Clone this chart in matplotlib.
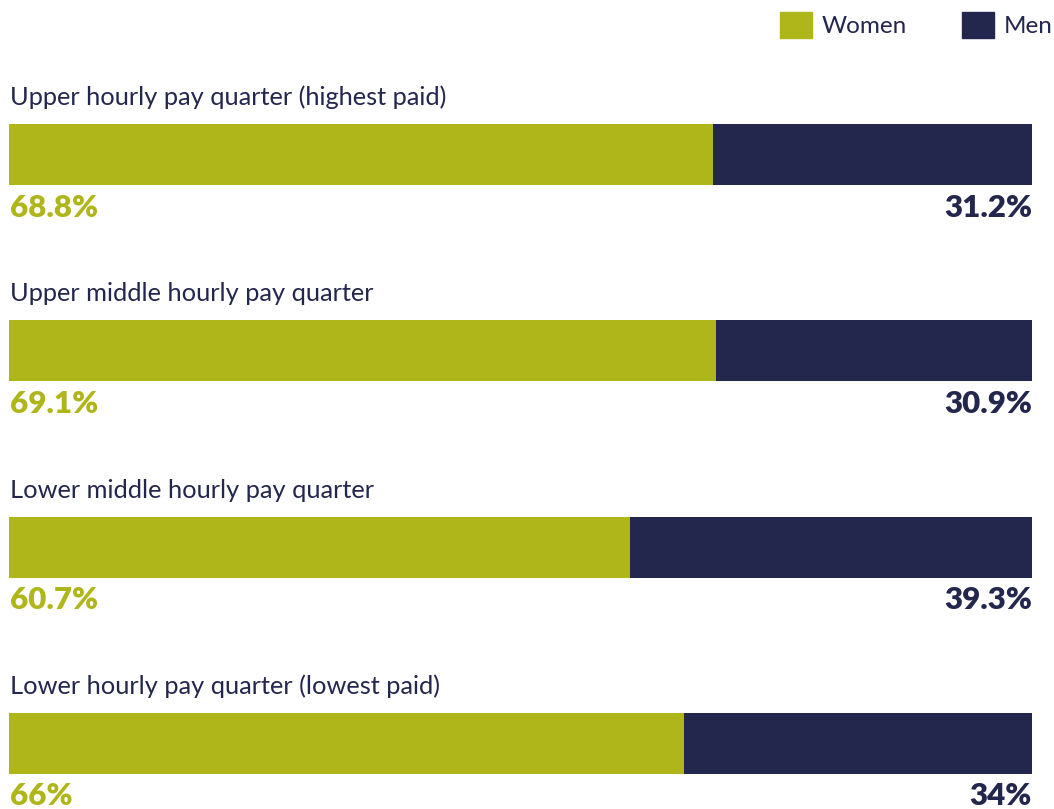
import matplotlib.pyplot as plt
from matplotlib.patches import Patch

quarters = ["Upper hourly pay quarter (highest paid)",
            "Upper middle hourly pay quarter",
            "Lower middle hourly pay quarter",
            "Lower hourly pay quarter (lowest paid)"]
women = [68.8, 69.1, 60.7, 66]
men = [31.2, 30.9, 39.3, 34]
women_labels = ["68.8%", "69.1%", "60.7%", "66%"]
men_labels = ["31.2%", "30.9%", "39.3%", "34%"]

green = "#AFB619"
navy = "#23264D"
plt.rcParams['font.family'] = ['Lato', 'DejaVu Sans']

fig = plt.figure(figsize=(10.54, 8.09), dpi=100)
ax = fig.add_axes([9 / 1054, 0, 1023 / 1054, 1])

rows = range(len(quarters))
h = 0.31
ax.barh(rows, women, height=h, color=green, linewidth=0)
ax.barh(rows, men, left=women, height=h, color=navy, linewidth=0)

for i in rows:
    ax.text(0.1, i - 0.29, quarters[i], color=navy, fontsize=18.3,
            ha="left", va="center")
    ax.text(0.05, i + 0.27, women_labels[i], color=green, fontsize=22.5,
            fontweight="heavy", ha="left", va="center")
    ax.text(100, i + 0.27, men_labels[i], color=navy, fontsize=22.5,
            fontweight="heavy", ha="right", va="center")

ax.set_xlim(0, 100)
ax.set_ylim(3.334, -0.787)
ax.axis("off")

handles = [Patch(color=green, label="Women"), Patch(color=navy, label="Men")]
fig.legend(handles=handles, loc="upper left", bbox_to_anchor=(780 / 1054, 1 - 12 / 809),
           ncol=2, frameon=False, fontsize=17.5, handlelength=1.3,
           handleheight=1.3, handletextpad=0.4, columnspacing=2.3,
           labelcolor=navy, borderaxespad=0, borderpad=0)

fig.savefig("out.png", dpi=100)
